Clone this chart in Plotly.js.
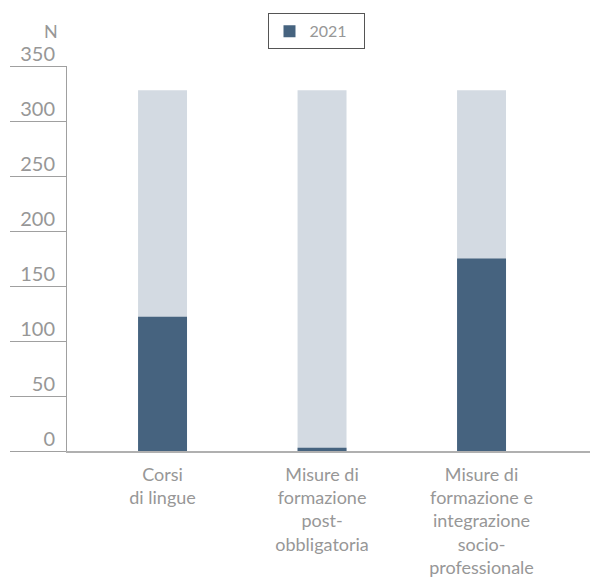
<!DOCTYPE html>
<html>
<head>
<meta charset="utf-8">
<script src="https://cdn.plot.ly/plotly-3.0.1.min.js"></script>
<style>html,body{margin:0;padding:0;background:#fff;}#chart{width:600px;height:578px;}</style>
</head>
<body>
<div id="chart"></div>
<script>
var categories = ["Corsi<br>di lingue", "Misure di<br>formazione<br>post-<br>obbligatoria", "Misure di<br>formazione e<br>integrazione<br>socio-<br>professionale"];
var values2021 = [122, 3, 175];
var backgroundTotals = [328, 328, 328];
var yTickValues = [0, 50, 100, 150, 200, 250, 300, 350];
var seriesName = "2021";
var yUnitLabel = "N";

var FONT = "Lato, 'Open Sans', sans-serif";
var TXT = "#979797";

var traces = [
  {
    type: "bar", x: categories, y: backgroundTotals, showlegend: false,
    marker: {color: "#d3dae2"}, width: 0.307, hoverinfo: "skip"
  },
  {
    type: "bar", x: categories, y: values2021, name: seriesName,
    marker: {color: "#46637f"}, width: 0.307
  }
];

var layout = {
  width: 600, height: 578,
  margin: {l: 67, r: 10, t: 66, b: 127},
  barmode: "overlay",
  paper_bgcolor: "#fff", plot_bgcolor: "#fff",
  font: {family: FONT, color: TXT},
  showlegend: true,
  legend: {
    orientation: "h", x: 0.478, xanchor: "center", y: 1.137, yanchor: "top",
    entrywidth: 50, entrywidthmode: "pixels",
    bordercolor: "#555", borderwidth: 1, font: {size: 16, color: TXT, family: FONT}
  },
  xaxis: {
    type: "category", range: [-0.599, 2.68],
    showline: true, linecolor: "#b0b0b0", linewidth: 2,
    showgrid: false, zeroline: false, ticks: "",
    ticklabelstandoff: 6,
    tickfont: {size: 18, color: TXT, family: FONT}
  },
  yaxis: {
    range: [0, 350], tickvals: yTickValues,
    showline: true, linecolor: "#a0a0a0", linewidth: 1,
    showgrid: false, zeroline: false,
    ticks: "outside", ticklen: 56, tickcolor: "#a0a0a0", tickwidth: 1,
    ticklabelstandoff: -49, ticklabelshift: -12,
    tickfont: {size: 20, color: TXT, family: FONT}
  },
  annotations: [
    {text: yUnitLabel, xref: "paper", yref: "paper", x: -16/523, y: 1 + 35/385,
     xanchor: "center", yanchor: "middle", showarrow: false,
     font: {size: 18, color: TXT, family: FONT}}
  ]
};

Plotly.newPlot("chart", traces, layout, {displayModeBar: false, staticPlot: true});
</script>
</body>
</html>
